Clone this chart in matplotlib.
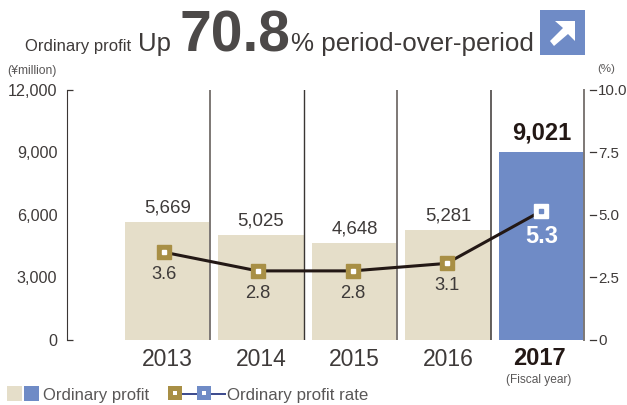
import matplotlib
matplotlib.use("Agg")
import matplotlib.pyplot as plt
from matplotlib.patches import Rectangle, Polygon
from matplotlib.lines import Line2D

years = ["2013", "2014", "2015", "2016", "2017"]
profit = [5669, 5025, 4648, 5281, 9021]
profit_labels = ["5,669", "5,025", "4,648", "5,281", "9,021"]
rate_plotted = [3.5, 2.75, 2.75, 3.05, 5.15]
rate_labels = ["3.6", "2.8", "2.8", "3.1", "5.3"]
rate_x = [-0.04, 0.965, 1.98, 2.985, 4.0]
left_ticks = [0, 3000, 6000, 9000, 12000]
left_tick_labels = ["0", "3,000", "6,000", "9,000", "12,000"]
right_ticks = [0, 2.5, 5.0, 7.5, 10.0]
right_tick_labels = ["0", "2.5", "5.0", "7.5", "10.0"]

W, H = 627, 405
TXT = "#3e3a39"
DARK = "#231815"
BEIGE = "#e5dec9"
BLUE = "#6f8bc6"
GOLD = "#a88f45"
plt.rcParams["font.family"] = ["Liberation Sans", "DejaVu Sans"]

fig = plt.figure(figsize=(W / 100, H / 100), dpi=100)
L, R, T, B = 67, 584, 90, 339.5
ax = fig.add_axes([L / W, 1 - B / H, (R - L) / W, (B - T) / H])
ax.set_xlim(-1.075, 4.455)
ax.set_ylim(0, 12000)
ax.patch.set_visible(False)
xs = list(range(len(years)))
ax.bar(xs, profit, width=0.91, color=[BEIGE] * 4 + [BLUE], zorder=1)
for sx, c, lw in [(0.455, "#7d7875", 1.4), (1.455, "#3a3634", 1.0),
                  (2.455, "#7d7875", 1.4), (3.455, "#4a4644", 1.2)]:
    ax.axvline(sx, color=c, lw=lw, zorder=2)
for s in ["top", "bottom"]:
    ax.spines[s].set_visible(False)
ax.spines["left"].set_color("#3a3634")
ax.spines["left"].set_linewidth(0.8)
ax.spines["right"].set_color("#7d7875")
ax.spines["right"].set_linewidth(1.4)
ax.set_yticks(left_ticks, left_tick_labels, fontsize=11.6, color=TXT)
ax.tick_params(axis="y", length=0, pad=7)
ax.hlines([0, 12000], 0, 6 / (R - L), transform=ax.get_yaxis_transform(),
          color="#3a3634", lw=0.9, clip_on=False)
ax.set_xticks(xs[:4], years[:4], fontsize=16.5, color=TXT)
ax.tick_params(axis="x", length=0, pad=6)
for x, lab, v in zip(xs[:4], profit_labels[:4], profit[:4]):
    ax.annotate(lab, (x, v), xytext=(0, 4), textcoords="offset points",
                ha="center", va="bottom", fontsize=13.4, color=TXT)
ax.annotate(profit_labels[4], (4, profit[4]), xytext=(0, 5), textcoords="offset points",
            ha="center", va="bottom", fontsize=17, fontweight="bold", color=DARK)

ax2 = ax.twinx()
ax2.set_ylim(0, 10)
ax2.patch.set_visible(False)
for s in ax2.spines.values():
    s.set_visible(False)
ax2.set_yticks(right_ticks, right_tick_labels, fontsize=10.8, color=TXT)
ax2.tick_params(axis="y", length=0, pad=10)
for v in right_ticks:
    y = 1 - (B - (B - T) * v / 10) / H
    fig.add_artist(Line2D([590 / W, 596 / W], [y, y], transform=fig.transFigure,
                          color="#3a3634", lw=0.9))
ax2.plot(rate_x, rate_plotted, color="#231815", lw=2.2, zorder=3)
ax2.plot(rate_x[:4], rate_plotted[:4], ls="", marker="s", ms=9.5, mfc=GOLD, mec=GOLD, zorder=4)
ax2.plot(rate_x[4:], rate_plotted[4:], ls="", marker="s", ms=9.5, mfc="white", mec="white", zorder=4)
ax2.plot(rate_x[:4], rate_plotted[:4], ls="", marker="s", ms=3, mfc="white", mec="white", zorder=5)
ax2.plot(rate_x[4:], rate_plotted[4:], ls="", marker="s", ms=3, mfc=BLUE, mec=BLUE, zorder=5)
for x, lab, v in zip(rate_x[:4], rate_labels[:4], rate_plotted[:4]):
    ax2.annotate(lab, (x, v), xytext=(0, -10), textcoords="offset points",
                 ha="center", va="top", fontsize=13.2, color=TXT)
ax2.annotate(rate_labels[4], (rate_x[4], rate_plotted[4]), xytext=(0, -10), textcoords="offset points",
             ha="center", va="top", fontsize=17, fontweight="bold", color="white")


def t(x, y, s, size, weight="normal", color=TXT, ha="left", va="baseline"):
    return fig.text(x / W, 1 - y / H, s, fontsize=size, fontweight=weight, color=color, ha=ha, va=va)


def rect(x, y, w, h, c):
    fig.add_artist(Rectangle((x / W, 1 - (y + h) / H), w / W, h / H,
                             transform=fig.transFigure, fc=c, ec="none"))


t(25, 51, "Ordinary profit", 12)
t(138, 51, "Up", 18.5)
t(179, 52, "70.8", 41, "bold", "#4c4948")
t(291, 51, "% period-over-period", 18.7)
t(7, 74, "(¥million)", 8.7, color="#595757")
t(597, 72, "(%)", 8.2, color="#595757")
t(539, 365, years[4], 17, "bold", DARK, ha="center")
t(539, 383, "(Fiscal year)", 8.6, color="#595757", ha="center")

# arrow icon
rect(540, 10, 45, 45, BLUE)
pts = [(555, 21), (575, 21), (575, 41), (568, 34), (554, 46), (550, 41), (563, 28)]
fig.add_artist(Polygon([(x / W, 1 - y / H) for x, y in pts], closed=True,
                       transform=fig.transFigure, fc="white", ec="none"))

# legend
rect(7, 386, 15, 15, BEIGE)
rect(24, 386, 15, 15, BLUE)
t(43, 400, "Ordinary profit", 12, color="#595757")
rect(182, 393, 15, 1.6, "#3f4d8f")
rect(211, 393, 15, 1.6, "#3f4d8f")
rect(168, 386, 14, 14, GOLD)
rect(197, 386, 14, 14, BLUE)
rect(173, 391, 4, 4, "white")
rect(202, 391, 4, 4, "white")
t(227, 400, "Ordinary profit rate", 12.2, color="#595757")

fig.savefig("out.png", dpi=100)
